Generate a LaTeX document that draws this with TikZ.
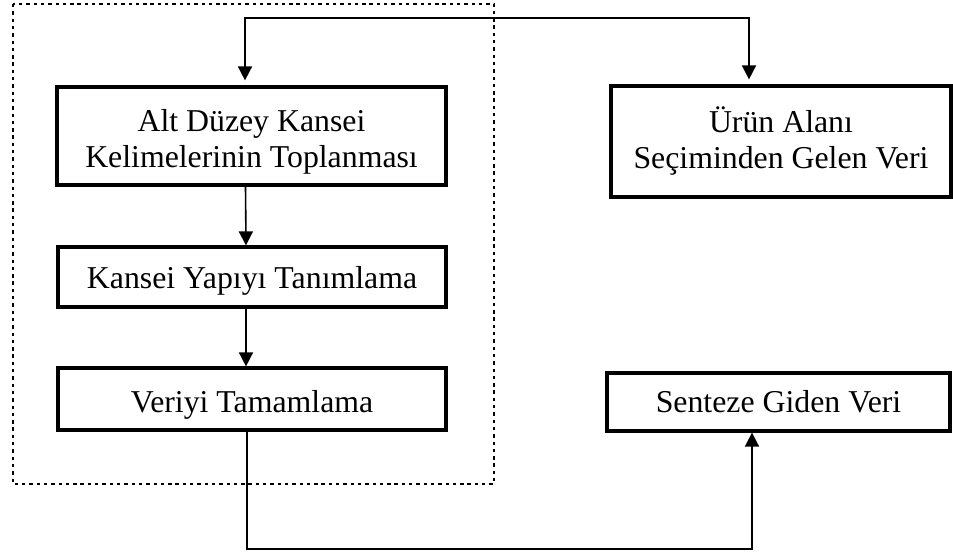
\documentclass[tikz,border=0pt]{standalone}
\usepackage{fontspec}
\setmainfont{Liberation Serif}
\usetikzlibrary{arrows.meta}
\begin{document}
\begin{tikzpicture}[x=1pt,y=-1pt,
  box/.style={draw, line width=3.2pt, inner sep=0pt},
  txt/.style={inner sep=0pt, align=center, font=\fontsize{31.8}{36}\selectfont},
  link/.style={line width=1.6pt},
  arr/.style={link, -{Triangle[width=14pt,length=14pt]}},
  frame/.style={line width=2.4pt, dash pattern=on 3.4pt off 3.9pt}]
\useasboundingbox (0,0) rectangle (953,555);

% dotted grouping frame
\draw[frame] (13,4) rectangle (494,484);

% left column
\node[box, minimum width=389pt, minimum height=98pt] (collect) at (251.5,136) {};
\node[box, minimum width=388pt, minimum height=60pt] (define) at (252,277) {};
\node[box, minimum width=388pt, minimum height=62pt] (complete) at (252,399) {};

% right column
\node[box, minimum width=340pt, minimum height=111pt] (domain) at (781,141.5) {};
\node[box, minimum width=343pt, minimum height=58pt] (synth) at (778.5,402) {};

% box captions
\node[txt] (collect-t) at ([yshift=-5.5pt]collect) {Alt Düzey Kansei\\Kelimelerinin Toplanması};
\node[txt] (define-t) at ([yshift=-3.5pt]define) {Kansei Yapıyı Tanımlama};
\node[txt] (complete-t) at ([yshift=-5.5pt]complete) {Veriyi Tamamlama};
\node[txt] (domain-t) at ([yshift=0.5pt]domain) {Ürün Alanı\\Seçiminden Gelen Veri};
\node[txt] (synth-t) at (synth) {Senteze Giden Veri};

% routing points
\coordinate (tl) at (245,18);
\coordinate (tr) at (749,18);
\coordinate (bl) at (247,549);
\coordinate (br) at (752,549);

% incoming data split to both columns
\draw[link, {Triangle[width=14pt,length=14pt]}-{Triangle[width=14pt,length=14pt]},
  shorten <=5pt, shorten >=5pt]
  (tl |- collect.north) -- (tl) -- (tr) -- (tr |- domain.north);

% steps inside the frame
\draw[arr] ([xshift=-6pt]collect.south) -- ([xshift=-6pt]define.north);
\draw[arr] ([xshift=-6pt]define.south) -- ([xshift=-6pt]complete.north);

% output to synthesis
\draw[arr] (bl |- complete.south) -- (bl) -- (br) -- (br |- synth.south);
\end{tikzpicture}
\end{document}
